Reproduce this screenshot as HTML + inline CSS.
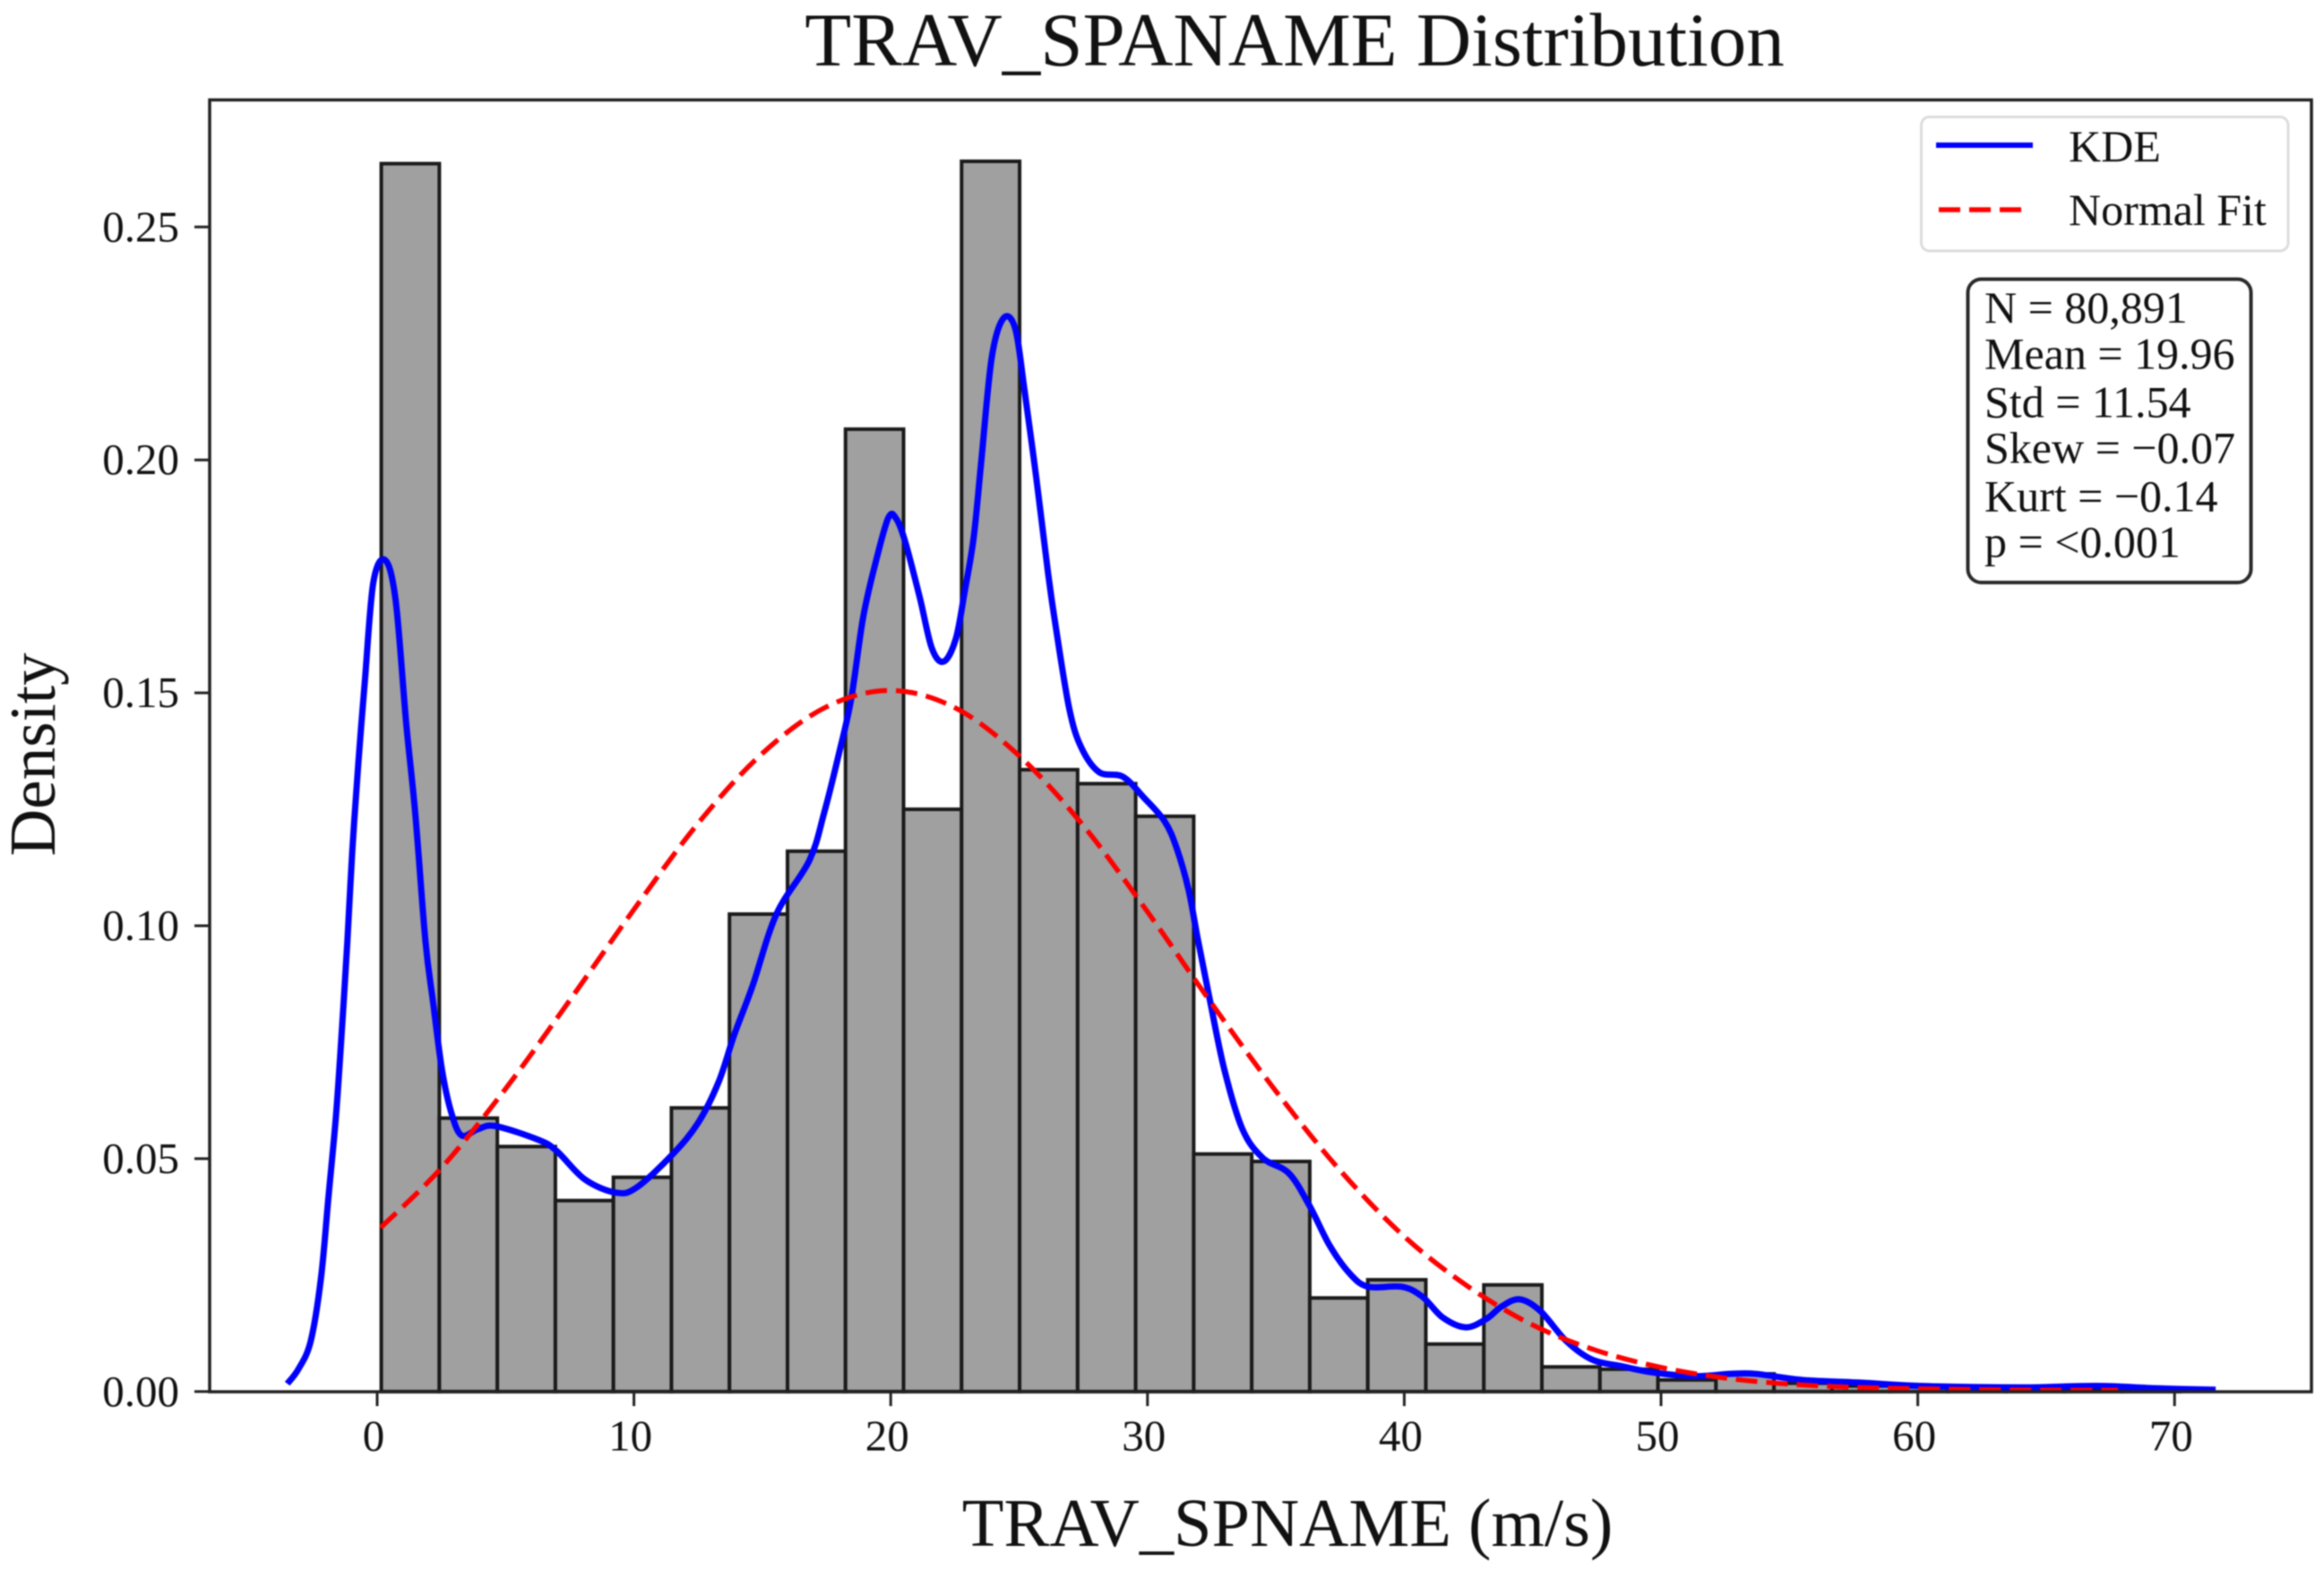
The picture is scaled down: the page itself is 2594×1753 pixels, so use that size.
<!DOCTYPE html>
<html lang="en">
<head>
<meta charset="utf-8">
<title>TRAV_SPANAME Distribution</title>
<style>
html,body{margin:0;padding:0;background:#fff;width:2594px;height:1753px;overflow:hidden}
svg{display:block;filter:blur(0.8px)}
text{font-family:"Liberation Serif",serif;fill:#111}
</style>
</head>
<body>
<svg id="chart" xmlns="http://www.w3.org/2000/svg" width="2594" height="1753" viewBox="0 0 2594 1753">
  <rect x="0" y="0" width="2594" height="1753" fill="#ffffff"/>
  <text x="1445" y="73" font-size="85" text-anchor="middle">TRAV_SPANAME Distribution</text>
  <g id="bars"></g>
  <path id="kde" fill="none" stroke="#0000ff" stroke-width="7" stroke-linejoin="round"/>
  <path id="normal" fill="none" stroke="#ff0000" stroke-width="5.5" stroke-dasharray="24 10"/>
  <g id="x-ticks"></g>
  <g id="y-ticks"></g>
  <rect x="234" y="111.5" width="2346" height="1441.5" fill="none" stroke="#222" stroke-width="3.5"/>
  <text x="1437" y="1725" font-size="76.4" text-anchor="middle">TRAV_SPNAME (m/s)</text>
  <text transform="translate(61,842) rotate(-90)" font-size="73" text-anchor="middle">Density</text>
  <g>
    <rect x="2144.5" y="130.5" width="409.5" height="149.5" rx="9" fill="#ffffff" stroke="#dcdcdc" stroke-width="3"/>
    <line x1="2161" y1="162" x2="2269" y2="162" stroke="#0000ff" stroke-width="6"/>
    <text x="2309" y="180" font-size="50">KDE</text>
    <line x1="2164" y1="234" x2="2257" y2="234" stroke="#ff0000" stroke-width="5.5" stroke-dasharray="24 10"/>
    <text x="2309" y="251" font-size="50">Normal Fit</text>
  </g>
  <g>
    <rect x="2196.5" y="311.5" width="316" height="338.5" rx="15" fill="#ffffff" stroke="#2a2a2a" stroke-width="4"/>
    <text x="2215" y="360" font-size="50">N = 80,891</text>
    <text x="2215" y="411.5" font-size="50">Mean = 19.96</text>
    <text x="2215" y="465.5" font-size="50">Std = 11.54</text>
    <text x="2215" y="516.5" font-size="50">Skew = −0.07</text>
    <text x="2215" y="570.5" font-size="50">Kurt = −0.14</text>
    <text x="2215" y="621.5" font-size="50">p = &lt;0.001</text>
  </g>
</svg>
<script>
var binStart = 0.16;
var binWidth = 2.26;
var binHeights = [0.2636, 0.0587, 0.0526, 0.0410, 0.0460, 0.0609, 0.1025, 0.1160, 0.2066, 0.1250, 0.2641, 0.1335, 0.1305, 0.1235, 0.0510, 0.0494, 0.0201, 0.0240, 0.0102, 0.0229, 0.0053, 0.0048, 0.0025, 0.0038, 0.0018, 0.0012, 0.0010, 0.0007, 0.0005, 0.0004, 0.0003];
var kdeX = [-3.5, -3.07, -2.59, -2.19, -1.9, -1.6, -1.37, -1.16, -0.97, -0.73, -0.48, -0.15, 0.31, 0.72, 1.13, 1.48, 1.88, 2.17, 2.52, 2.87, 3.28, 3.91, 4.6, 6.3, 7.0, 8.1, 9.3, 10.1, 11.5, 12.5, 13.3, 13.9, 14.62, 15.55, 16.83, 17.41, 17.99, 18.46, 18.92, 19.39, 19.9, 20.2, 20.55, 21.13, 21.6, 22.06, 22.53, 22.88, 23.23, 23.52, 23.93, 24.39, 24.85, 25.2, 25.67, 26.13, 26.43, 26.95, 27.41, 28.11, 29.04, 29.86, 30.67, 31.14, 31.6, 31.95, 32.41, 32.99, 33.7, 34.5, 35.5, 36.3, 37.1, 37.9, 38.6, 39.9, 40.7, 41.5, 42.4, 43.2, 43.8, 44.5, 45.3, 46.3, 47.3, 48.5, 49.7, 51.3, 52.7, 53.7, 55.5, 57.8, 60.1, 64, 67, 69.3, 71.6];
var kdeY = [0.0017, 0.0048, 0.0108, 0.0243, 0.0416, 0.0595, 0.0781, 0.0967, 0.116, 0.1352, 0.1525, 0.1737, 0.1785, 0.1698, 0.1435, 0.1243, 0.0967, 0.0839, 0.0692, 0.0602, 0.055, 0.0563, 0.057, 0.054, 0.0516, 0.0455, 0.0427, 0.0438, 0.0509, 0.0577, 0.0665, 0.0765, 0.0871, 0.1025, 0.114, 0.1243, 0.1371, 0.1487, 0.166, 0.1775, 0.1875, 0.1875, 0.1827, 0.1705, 0.1596, 0.1567, 0.1615, 0.1717, 0.1833, 0.1993, 0.2218, 0.2304, 0.2282, 0.2154, 0.1961, 0.1756, 0.1641, 0.1467, 0.1384, 0.133, 0.132, 0.1275, 0.1224, 0.1166, 0.1077, 0.0974, 0.0846, 0.0692, 0.0563, 0.0501, 0.0469, 0.0400, 0.0313, 0.0252, 0.0225, 0.0225, 0.0204, 0.0159, 0.0138, 0.0156, 0.0183, 0.0198, 0.0173, 0.0109, 0.0069, 0.0054, 0.0041, 0.0033, 0.0038, 0.0038, 0.0025, 0.0019, 0.0012, 0.0009, 0.0012, 0.0007, 0.0004];
var normalX = [0.14, 2.5, 5, 7.5, 10, 12.5, 15, 17.5, 20, 22.5, 25, 27.5, 30, 32.5, 35, 37.5, 40, 42.5, 45, 47.5, 50, 52.5, 55, 57.5, 60, 62.5, 65, 67.8];
var normalY = [0.0352, 0.0480, 0.0650, 0.0840, 0.1035, 0.1220, 0.1370, 0.1470, 0.1505, 0.1468, 0.1365, 0.1215, 0.1030, 0.0833, 0.0645, 0.0475, 0.0333, 0.0225, 0.0143, 0.0088, 0.0052, 0.0029, 0.0016, 0.0009, 0.0006, 0.0004, 0.0003, 0.0003];
var xTickValues = [0, 10, 20, 30, 40, 50, 60, 70];
var xTickLabels = ['0', '10', '20', '30', '40', '50', '60', '70'];
var yTickValues = [0, 0.05, 0.10, 0.15, 0.20, 0.25];
var yTickLabels = ['0.00', '0.05', '0.10', '0.15', '0.20', '0.25'];

var NS = 'http://www.w3.org/2000/svg';
function xScale(v) { return 421 + v * 28.66; }
function yScale(v) { return 1552.8 - v * 5198; }

function smoothPath(xs, ys) {
  var p = xs.map(function (x, i) { return [xScale(x), yScale(ys[i])]; });
  var d = 'M' + p[0][0].toFixed(2) + ' ' + p[0][1].toFixed(2);
  for (var i = 0; i < p.length - 1; i++) {
    var a = p[Math.max(i - 1, 0)], b = p[i], c = p[i + 1], e = p[Math.min(i + 2, p.length - 1)];
    var c1x = b[0] + (c[0] - a[0]) / 6, c1y = b[1] + (c[1] - a[1]) / 6;
    var c2x = c[0] - (e[0] - b[0]) / 6, c2y = c[1] - (e[1] - b[1]) / 6;
    d += 'C' + c1x.toFixed(2) + ' ' + c1y.toFixed(2) + ' ' + c2x.toFixed(2) + ' ' + c2y.toFixed(2) + ' ' + c[0].toFixed(2) + ' ' + c[1].toFixed(2);
  }
  return d;
}

var barsGroup = document.getElementById('bars');
binHeights.forEach(function (h, i) {
  var left = xScale(binStart + i * binWidth);
  var right = xScale(binStart + (i + 1) * binWidth);
  var r = document.createElementNS(NS, 'rect');
  
  
  r.setAttribute('x', left);
  r.setAttribute('y', yScale(h));
  r.setAttribute('width', right - left);
  r.setAttribute('height', yScale(0) - yScale(h));
  r.setAttribute('fill', '#a0a0a0');
  r.setAttribute('stroke', '#1a1a1a');
  r.setAttribute('stroke-width', '4');
  barsGroup.appendChild(r);
});

document.getElementById('kde').setAttribute('d', smoothPath(kdeX, kdeY));
document.getElementById('normal').setAttribute('d', smoothPath(normalX, normalY));

var xTicksGroup = document.getElementById('x-ticks');
xTickValues.forEach(function (v, i) {
  var px = xScale(v);
  var t = document.createElementNS(NS, 'line');
  
  
  t.setAttribute('x1', px);
  t.setAttribute('x2', px);
  t.setAttribute('y1', 1553);
  t.setAttribute('y2', 1569);
  t.setAttribute('stroke', '#222');
  t.setAttribute('stroke-width', '3');
  xTicksGroup.appendChild(t);
  var l = document.createElementNS(NS, 'text');
  
  
  l.setAttribute('x', px - 4);
  l.setAttribute('y', 1618.5);
  l.setAttribute('font-size', '49');
  l.setAttribute('text-anchor', 'middle');
  l.textContent = xTickLabels[i];
  xTicksGroup.appendChild(l);
});

var yTicksGroup = document.getElementById('y-ticks');
yTickValues.forEach(function (v, i) {
  var py = yScale(v);
  var t = document.createElementNS(NS, 'line');
  
  
  t.setAttribute('x1', 217);
  t.setAttribute('x2', 234);
  t.setAttribute('y1', py);
  t.setAttribute('y2', py);
  t.setAttribute('stroke', '#222');
  t.setAttribute('stroke-width', '3');
  yTicksGroup.appendChild(t);
  var l = document.createElementNS(NS, 'text');
  
  
  l.setAttribute('x', 200);
  l.setAttribute('y', py + 16);
  l.setAttribute('font-size', '49');
  l.setAttribute('text-anchor', 'end');
  l.textContent = yTickLabels[i];
  yTicksGroup.appendChild(l);
});
</script>
</body>
</html>
